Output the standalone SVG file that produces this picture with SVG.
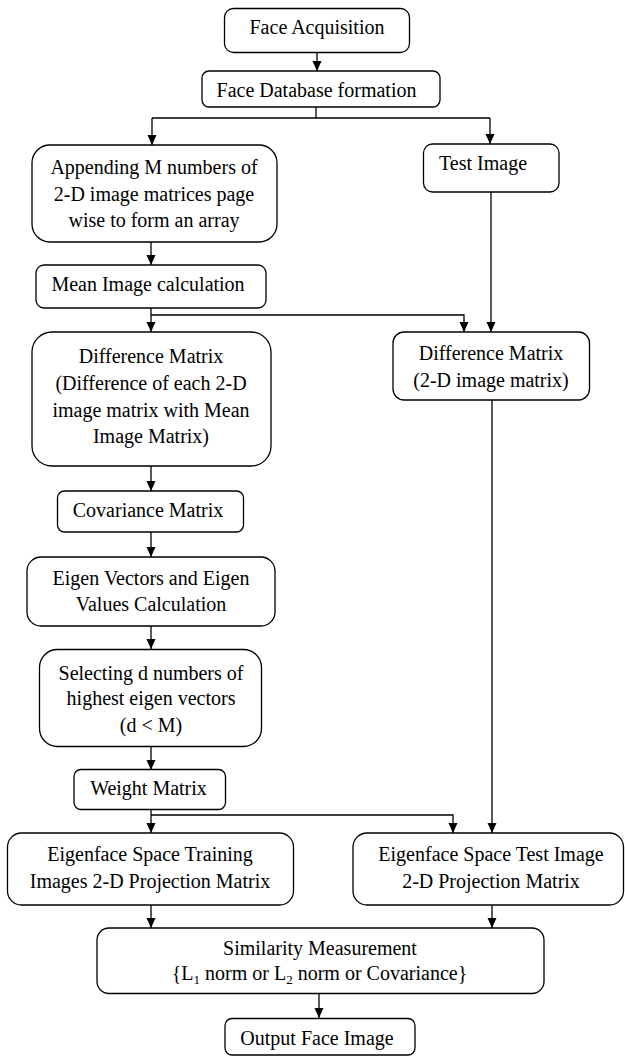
<svg xmlns="http://www.w3.org/2000/svg" width="625" height="1057" viewBox="0 0 625 1057">
<style>
.box{fill:#fff;stroke:#000;stroke-width:1.3}
.t{font-family:"Liberation Serif","Times New Roman",Times,serif;font-size:20px;fill:#000;text-anchor:middle}
.c{fill:none;stroke:#000;stroke-width:1.3}
.sub{font-size:13px}
</style>
<defs>
<marker id="a" markerUnits="userSpaceOnUse" markerWidth="10" markerHeight="10" refX="10" refY="4.5" orient="auto" viewBox="0 0 10 9">
<path d="M0,0 L10,4.5 L0,9 Z" fill="#000"/>
</marker>
</defs>
<g id="connectors">
<path class="c" d="M317,53 V71" marker-end="url(#a)"/>
<path class="c" d="M316,107 V118 M152,118 H490"/>
<path class="c" d="M152,118 V145" marker-end="url(#a)"/>
<path class="c" d="M490,118 V144" marker-end="url(#a)"/>
<path class="c" d="M151,242 V265" marker-end="url(#a)"/>
<path class="c" d="M151,308 V332" marker-end="url(#a)"/>
<path class="c" d="M151,315 H464 V332" marker-end="url(#a)"/>
<path class="c" d="M491,192 V332" marker-end="url(#a)"/>
<path class="c" d="M151,466 V491" marker-end="url(#a)"/>
<path class="c" d="M151,532 V557" marker-end="url(#a)"/>
<path class="c" d="M151,626 V649" marker-end="url(#a)"/>
<path class="c" d="M151,747 V770" marker-end="url(#a)"/>
<path class="c" d="M151,809 V833" marker-end="url(#a)"/>
<path class="c" d="M151,815 H453 V833" marker-end="url(#a)"/>
<path class="c" d="M492,400 V833" marker-end="url(#a)"/>
<path class="c" d="M151,905 V928" marker-end="url(#a)"/>
<path class="c" d="M492,905 V928" marker-end="url(#a)"/>
<path class="c" d="M319,993 V1018" marker-end="url(#a)"/>
</g>
<g id="face-acquisition">
<rect class="box" x="224.5" y="8.5" width="185" height="44" rx="9"/>
<text class="t" x="317" y="34">Face Acquisition</text>
</g>
<g id="face-database">
<rect class="box" x="202" y="71" width="238" height="36" rx="7"/>
<text class="t" x="316.5" y="96.5">Face Database formation</text>
</g>
<g id="appending">
<rect class="box" x="32" y="145" width="245" height="97" rx="18"/>
<text class="t" x="154" y="174">Appending M numbers of</text>
<text class="t" x="154" y="201">2-D image matrices page</text>
<text class="t" x="154" y="226.5">wise to form an array</text>
</g>
<g id="test-image">
<rect class="box" x="423.5" y="144" width="135.5" height="48" rx="9"/>
<text class="t" x="439" y="170" style="text-anchor:start">Test Image</text>
</g>
<g id="mean-image">
<rect class="box" x="36" y="265" width="230" height="43" rx="8"/>
<text class="t" x="148" y="291">Mean Image calculation</text>
</g>
<g id="difference-matrix-train">
<rect class="box" x="32" y="332" width="239" height="134" rx="20"/>
<text class="t" x="151" y="362.5">Difference Matrix</text>
<text class="t" x="151" y="389.5">(Difference of each 2-D</text>
<text class="t" x="151" y="416.5">image matrix with Mean</text>
<text class="t" x="151" y="443">Image Matrix)</text>
</g>
<g id="difference-matrix-test">
<rect class="box" x="393" y="332" width="196.5" height="68" rx="11"/>
<text class="t" x="491" y="360">Difference Matrix</text>
<text class="t" x="491" y="387">(2-D image matrix)</text>
</g>
<g id="covariance">
<rect class="box" x="57.5" y="491" width="186" height="41" rx="7"/>
<text class="t" x="148" y="516.5">Covariance Matrix</text>
</g>
<g id="eigen">
<rect class="box" x="27" y="557" width="248" height="69" rx="14"/>
<text class="t" x="151" y="585">Eigen Vectors and Eigen</text>
<text class="t" x="151" y="610.5">Values Calculation</text>
</g>
<g id="selecting">
<rect class="box" x="39.5" y="649.5" width="222" height="97" rx="18"/>
<text class="t" x="151" y="680">Selecting d numbers of</text>
<text class="t" x="151" y="705">highest eigen vectors</text>
<text class="t" x="151" y="731.5">(d &lt; M)</text>
</g>
<g id="weight">
<rect class="box" x="74" y="769.5" width="151.5" height="40" rx="7"/>
<text class="t" x="148.5" y="795">Weight Matrix</text>
</g>
<g id="train-projection">
<rect class="box" x="7.5" y="833" width="286" height="72" rx="14"/>
<text class="t" x="150" y="861">Eigenface Space Training</text>
<text class="t" x="150" y="887.5">Images 2-D Projection Matrix</text>
</g>
<g id="test-projection">
<rect class="box" x="353" y="833" width="270.5" height="72" rx="14"/>
<text class="t" x="491" y="861">Eigenface Space Test Image</text>
<text class="t" x="491" y="887.5">2-D Projection Matrix</text>
</g>
<g id="similarity">
<rect class="box" x="97" y="928" width="447" height="65.5" rx="12"/>
<text class="t" x="320" y="955">Similarity Measurement</text>
<text class="t" x="319.5" y="979.5">{L<tspan class="sub" dy="4">1</tspan><tspan dy="-4"> norm or L</tspan><tspan class="sub" dy="4">2</tspan><tspan dy="-4"> norm or Covariance}</tspan></text>
</g>
<g id="output">
<rect class="box" x="225" y="1018.5" width="190" height="36.5" rx="7"/>
<text class="t" x="317" y="1045">Output Face Image</text>
</g>
</svg>
